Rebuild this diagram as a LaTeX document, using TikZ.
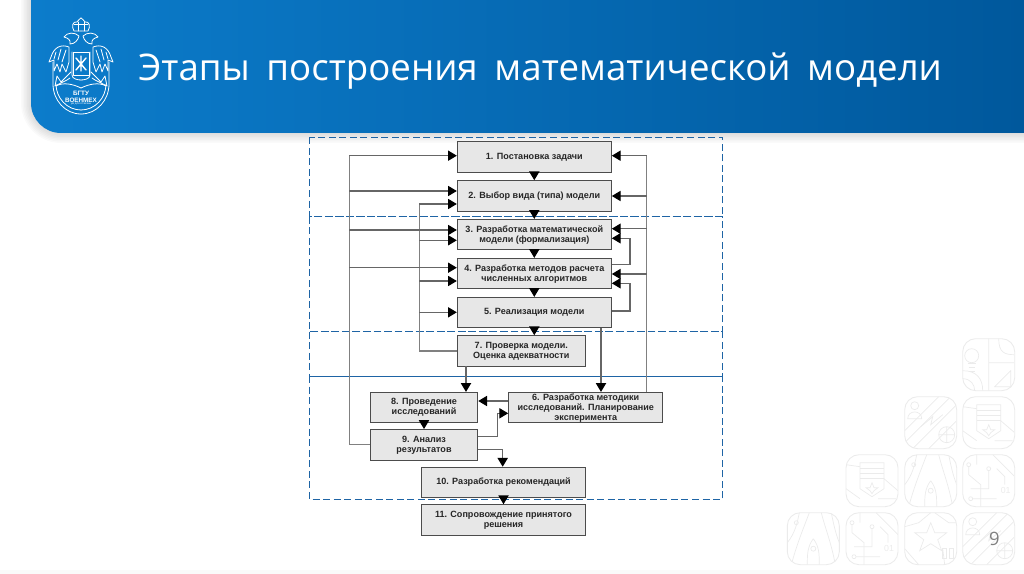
\documentclass[tikz,border=0pt]{standalone}
\usepackage{fontspec}
\setmainfont{Liberation Sans}
\newfontfamily\titlefont[WordSpace=1.75]{Open Sans}
\usetikzlibrary{arrows.meta}
\definecolor{headleft}{RGB}{12,124,203}
\definecolor{headright}{RGB}{0,88,156}
\definecolor{boxgray}{RGB}{231,231,231}
\definecolor{rowblue}{RGB}{30,100,165}
\definecolor{tileline}{RGB}{235,235,235}
\tikzset{
  stage/.style={draw=black!70,fill=boxgray,line width=0.6pt,inner sep=0pt,align=center,
    font=\fontsize{5.15}{5.7}\selectfont\bfseries,text=black!85},
  rowbox/.style={draw=rowblue,dashed,dash pattern=on 4pt off 2pt,line width=0.55pt},
  wire/.style={draw=black!50,line width=0.7pt},
  flow/.style={draw=black!60,line width=0.65pt,-{Triangle[length=5pt,width=5.8pt,color=black,fill=black]}},
  tile/.style={draw=tileline,line width=0.5pt,rounded corners=0.26cm},
  ico/.style={draw=tileline,line width=0.4pt},
  crest/.style={draw=white,line width=0.45pt,line cap=round,line join=round},
  pics/bulb/.style={code={
    \draw[ico] (9,17) circle (7);
    \draw[ico] (5,25)--(13,25) (6,29)--(12,29) (6,33)--(12,33);
    \draw[ico] (26,0)--(26,52) (26,24)--(52,24) (36,0)..controls (36,14) and (42,16) .. (52,16);
    \draw[ico] (0,32)..controls (14,32) and (20,40) .. (20,52) (0,40)..controls (8,40) and (12,46) .. (12,52);
    \draw[ico] (32,48)--(48,32)--(48,48)--cycle;
  }},
  pics/person/.style={code={
    \draw[ico] (10,9) circle (4) (3,22)..controls (3,13) and (17,13) .. (17,22)--cycle;
    \draw[ico] (0,34)--(34,0) (0,46)--(46,0) (8,52)--(52,8) (24,52)--(52,24);
    \draw[ico] (42,38) circle (8) (34,38)--(50,38) (42,30)--(42,46);
    \draw[ico] (16,30)--(28,20)--(26,28)--(38,18);
  }},
  pics/sheet/.style={code={
    \draw[ico] (14,8)--(38,8)--(38,34)--(26,42)--(14,34)--cycle;
    \draw[ico] (14,14)--(38,14) (14,19)--(38,19) (14,24)--(38,24);
    \draw[ico] (26,28)--(28,33)--(32,33)--(28,36)--(26,39)--(24,36)--(20,33)--(24,33)--cycle;
    \draw[ico] (0,10)--(14,12) (0,34)--(14,44) (38,24)--(52,36) (32,44)--(50,44);
  }},
  pics/rocket/.style={code={
    \draw[ico] (26,26)..controls (20,34) and (20,42) .. (20,52) (26,26)..controls (32,34) and (32,42) .. (32,52);
    \draw[ico] (26,36) circle (2.5);
    \draw[ico] (0,30)..controls (8,20) and (10,10) .. (12,0) (4,52)..controls (10,30) and (16,16) .. (22,0);
    \draw[ico] (48,52)..controls (44,30) and (38,16) .. (34,0) (52,30)..controls (48,20) and (46,10) .. (44,0);
    \draw[ico] (9,10) circle (2);
  }},
  pics/circuit/.style={code={
    \draw[ico] (6,10) circle (2) (6,12)--(6,20)--(18,30)--(18,52);
    \draw[ico] (14,0)--(14,10) (26,14) circle (2) (26,16)--(26,34)--(8,34);
    \draw[ico] (8,44) circle (2) (10,44)--(34,44);
    \draw[ico] (30,0)--(52,22) (34,14)--(42,22)--(42,30);
    \node[text=tileline,font=\fontsize{5}{5}\selectfont,inner sep=0pt] at (43,36) {01};
  }},
  pics/star/.style={code={
    \draw[ico] (26,10)--(30,20)--(42,20)--(33,27)--(37,38)--(26,31)--(15,38)--(19,27)--(10,20)--(22,20)--cycle;
    \draw[ico] (0,14)--(14,10)--(26,0) (30,0)--(44,10)--(52,10) (0,36)--(14,52) (38,36)--(40,52);
    \draw[ico] (38,36) rectangle (42,46) (45,36) rectangle (49,46);
  }},
}
\begin{document}
\begin{tikzpicture}[x=0.02cm,y=-0.02cm]
\useasboundingbox (0,0) rectangle (1024,574);
% header band
\clip (0,0) rectangle (1024,574);
\foreach \w in {2,5,...,20}
  \draw[black,opacity=0.018,line width=\w*0.02cm] (31,-30) [rounded corners=0.6cm] -- (31,133) [sharp corners] -- (1060,133);
\shade[left color=headleft,right color=headright] (31,-5) [rounded corners=0.6cm] -- (31,133) [sharp corners] -- (1024,133) -- (1024,-5) -- cycle;
\node[text=white,font=\titlefont\fontsize{20.85}{24}\selectfont,inner sep=0pt,anchor=west] (title) at (138,71) {Этапы построения математической модели};
% crest
\begin{scope}[shift={(81,0)}]
\foreach \s in {1,-1} {
\begin{scope}[xscale=\s]
\draw[crest] (0,31)--(7,31)..controls (10,26) and (8,21) .. (4,22)..controls (3,20) and (1,19) .. (0,18);
\draw[crest] (0,24)--(7,24) (3,22)--(3,31);
\draw[crest] (2,36)..controls (6,32) and (14,32) .. (17,37)..controls (13,38) and (10,40) .. (11,44)..controls (6,44) and (3,40) .. (2,36);
\draw[crest] (9,52)--(9,75)..controls (9,79) and (3,80) .. (0,80);
\draw[crest] (12,47)..controls (20,44) and (27,47) .. (30,57)--(32,62)--(27,60)--(27,71)--(24,64)--(21,72)--(19,64)--(15,72)--(12,62)--cycle;
\draw[crest] (15,50)--(19,62) (20,49)--(23,60) (25,52)--(27,59);
\draw[crest] (28,62)--(28,84)..controls (28,100) and (16,114) .. (0,114);
\draw[crest] (25,84)..controls (25,98) and (14,110) .. (0,110);
\draw[crest] (10,72)--(20,82)--(24,76)--(26,86)--(14,80)--(11,78);
\draw[crest] (25,86)..controls (18,82) and (8,84) .. (0,88);
\end{scope}}
\end{scope}
\draw[crest] (73,52) rectangle (89,75);
\draw[crest,line width=0.8pt] (76,58)--(86,70) (86,58)--(76,70) (81,56)--(81,71);
\node[text=white,font=\fontsize{3.6}{3.9}\selectfont\bfseries,align=center,inner sep=0pt] (crestname) at (81,97) {БГТУ\\ВОЕНМЕХ};
\node[text=white,font=\fontsize{1.6}{2}\selectfont,inner sep=0pt] (crestsub) at (81,104.5) {ум для отчизны};
% background tiles
\foreach \px/\py/\kind in {962.7/338.7/bulb,904.7/396.7/person,962.7/396.7/sheet,846/454.7/sheet,904.7/454.7/rocket,962.7/454.7/circuit,787.3/512.7/rocket,846/512.7/circuit,904.7/512.7/star,962.7/512.7/person} {
  \begin{scope}[shift={(\px,\py)}]
  \begin{scope}
  \clip[rounded corners=0.26cm] (0,0) rectangle (52,52);
  \pic {\kind};
  \end{scope}
  \draw[tile] (0,0) rectangle (52,52);
  \end{scope}
}
\node[text=black!50,font=\titlefont\fontsize{10.5}{12}\selectfont,inner sep=0pt] (pagenum) at (994.5,539) {9};
\fill[black!2] (0,570) rectangle (1024,574);
% stages
\node[stage,minimum width=3.08cm,minimum height=0.61cm] (b1) at (534.3,157.2) {1. Постановка задачи};
\node[stage,minimum width=3.08cm,minimum height=0.61cm] (b2) at (534.3,196) {2. Выбор вида (типа) модели};
\node[stage,minimum width=3.08cm,minimum height=0.61cm] (b3) at (534.3,234.7) {3. Разработка математической\\модели (формализация)};
\node[stage,minimum width=3.08cm,minimum height=0.61cm] (b4) at (534.3,273.7) {4. Разработка методов расчета\\численных алгоритмов};
\node[stage,minimum width=3.08cm,minimum height=0.61cm] (b5) at (534.3,312.7) {5. Реализация модели};
\node[stage,minimum width=2.56cm,minimum height=0.61cm] (b7) at (521.3,351) {7. Проверка модели.\\Оценка адекватности};
\node[stage,minimum width=2.15cm,minimum height=0.61cm] (b8) at (424,407.7) {8. Проведение\\исследований};
\node[stage,minimum width=3.08cm,minimum height=0.61cm] (b6) at (585.7,407.7) {6. Разработка методики\\исследований. Планирование\\эксперимента};
\node[stage,minimum width=2.15cm,minimum height=0.61cm] (b9) at (424,444.8) {9. Анализ\\результатов};
\node[stage,minimum width=3.27cm,minimum height=0.61cm] (b10) at (503.5,482.5) {10. Разработка рекомендаций};
\node[stage,minimum width=3.27cm,minimum height=0.61cm] (b11) at (503.5,520) {11. Сопровождение принятого\\решения};
% dashed rows
\draw[rowbox] (309.3,137.3) rectangle (722.7,216.7);
\draw[rowbox] (309.3,216.7) rectangle (722.7,331.7);
\draw[rowbox] (309.3,331.7) rectangle (722.7,376);
\draw[rowbox] (309.3,376) rectangle (722.7,499.3);
% buses
\coordinate (lbus) at (349.3,155.7);
\coordinate (mbus) at (419.3,204);
\coordinate (rbus) at (646.7,155.7);
\coordinate (fback) at (630,238.3);
\coordinate (up6) at (497.7,413.3);
\coordinate (down10) at (502.7,449.3);
\coordinate (rightdrop) at (601,328);
\coordinate (leftdrop) at (466,366);
\coordinate (six8) at (0,401);
\draw[wire] (lbus) -- (lbus |- b9.west) -- (b9.west);
\draw[wire] (mbus) -- (mbus |- b7.west) -- (b7.west);
\draw[wire] (rbus) -- (rbus |- b6.north);
\foreach \n/\y in {b1/155.7,b2/191,b3/230,b4/267.7}
  \draw[flow] (lbus |- 0,\y) -- (\n.west |- 0,\y);
\foreach \n/\y in {b2/204,b3/240.3,b4/281,b5/312.3}
  \draw[flow] (mbus |- 0,\y) -- (\n.west |- 0,\y);
\foreach \n/\y in {b1/155.7,b2/196,b3/228.7,b4/274}
  \draw[flow] (rbus |- 0,\y) -- (\n.east |- 0,\y);
% feedback
\draw[flow] (b4.east |- 0,264.3) -- (fback |- 0,264.3) -- (fback) -- (b3.east |- fback);
\draw[flow] (b5.east |- 0,311) -- (fback |- 0,311) -- (fback |- 0,283.3) -- (b4.east |- 0,283.3);
% between stages
\draw[flow] (b1.south) -- (b2.north);
\draw[flow] (b2.south) -- (b3.north);
\draw[flow] (b3.south) -- (b4.north);
\draw[flow] (b4.south) -- (b5.north);
\draw[flow] (b5.south) -- (b5.south |- b7.north);
\draw[flow] (rightdrop) -- (rightdrop |- b6.north);
\draw[flow] (leftdrop) -- (leftdrop |- b8.north);
\draw[flow] (b6.west |- six8) -- (b8.east |- six8);
\draw[flow] (b8.south) -- (b9.north);
\draw[flow] (b9.east |- 0,436.7) -- (up6 |- 0,436.7) -- (up6) -- (b6.west |- up6);
\draw[flow] (b9.east |- down10) -- (down10) -- (down10 |- b10.north);
\draw[flow] (b10.south) -- (b11.north);
\end{tikzpicture}
\end{document}
